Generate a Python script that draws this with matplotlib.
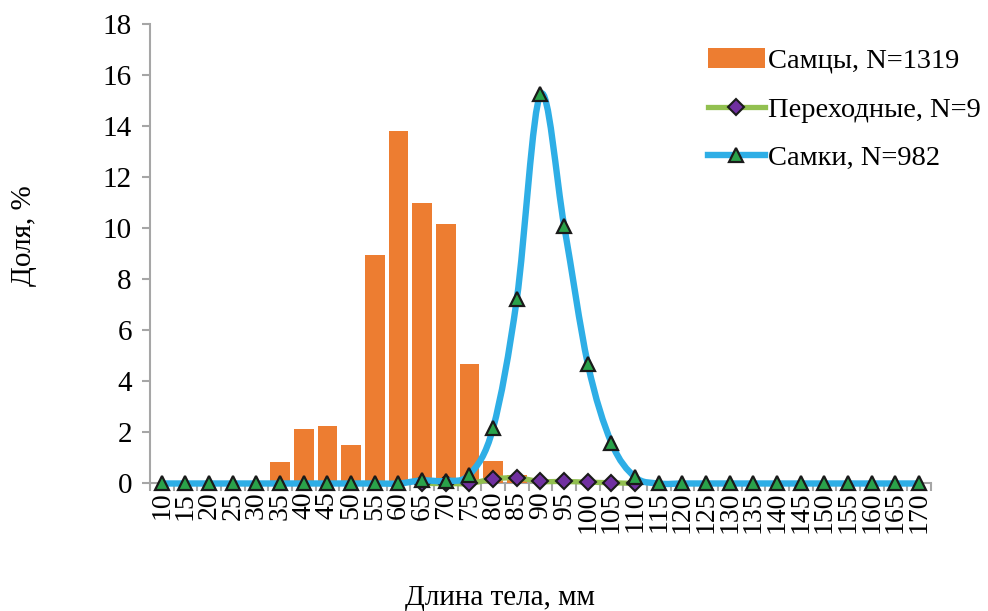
import matplotlib
matplotlib.use("Agg")
import matplotlib.pyplot as plt
import numpy as np
from matplotlib.path import Path
from matplotlib.patches import PathPatch
from matplotlib.lines import Line2D
from matplotlib.patches import Patch

plt.rcParams["font.family"] = ["Liberation Serif", "DejaVu Serif"]

lengths = [10, 15, 20, 25, 30, 35, 40, 45, 50, 55, 60, 65, 70, 75, 80, 85, 90,
           95, 100, 105, 110, 115, 120, 125, 130, 135, 140, 145, 150, 155, 160, 165, 170]

males = [0, 0, 0, 0, 0, 0.85, 2.15, 2.25, 1.5, 8.95, 13.83, 10.98, 10.17, 4.68, 0.9, 0.33, 0,
         0, 0, 0, 0, 0, 0, 0, 0, 0, 0, 0, 0, 0, 0, 0, 0]

# transitional: only 65..110
trans_lengths = [65, 70, 75, 80, 85, 90, 95, 100, 105, 110]
trans = [0.0, 0.0, 0.0, 0.18, 0.22, 0.08, 0.08, 0.05, 0.03, 0.0]

females = [0, 0, 0, 0, 0, 0, 0, 0, 0, 0, 0, 0.12, 0.1, 0.35, 2.18, 7.23, 15.25,
           10.1, 4.69, 1.59, 0.25, 0, 0, 0, 0, 0, 0, 0, 0, 0, 0, 0, 0]

labels = ["Самцы, N=1319", "Переходные, N=9", "Самки, N=982"]

c_bar = "#ED7D31"
c_green = "#92C050"
c_blue = "#2EAEE6"
c_diamond = "#7030A0"
c_tri = "#2AA24A"
c_axis = "#A6A6A6"


def smooth_path(xs, ys):
    # Excel-like smoothed line: cubic Bezier through the points
    pts = np.column_stack([xs, ys]).astype(float)
    n = len(pts)
    verts = [pts[0]]
    codes = [Path.MOVETO]
    for i in range(n - 1):
        p0 = pts[i - 1] if i > 0 else pts[i]
        p1 = pts[i]
        p2 = pts[i + 1]
        p3 = pts[i + 2] if i + 2 < n else pts[i + 1]
        c1 = p1 + (p2 - p0) / 6.0
        c2 = p2 - (p3 - p1) / 6.0
        verts += [c1, c2, p2]
        codes += [Path.CURVE4] * 3
    return Path(verts, codes)


fig = plt.figure(figsize=(9.88, 6.11), dpi=100)
ax = fig.add_axes([0.1518, 0.2087, 0.7905, 0.7515])

x = np.arange(len(lengths))
ax.bar(x, males, width=0.82, color=c_bar, zorder=2)

tx = np.array([lengths.index(v) for v in trans_lengths])
ax.add_patch(PathPatch(smooth_path(tx, trans), fill=False, edgecolor=c_green,
                       lw=3.8, zorder=3, capstyle="round", clip_on=False))
ax.plot(tx, trans, linestyle="none", marker="D", ms=8, mfc=c_diamond,
        mec="#1a1a1a", mew=1.5, zorder=4, clip_on=False)

ax.add_patch(PathPatch(smooth_path(x, females), fill=False, edgecolor=c_blue,
                       lw=4.6, zorder=5, capstyle="round", clip_on=False))
ax.plot(x, females, linestyle="none", marker="^", ms=10.5, mfc=c_tri,
        mec="#1a1a1a", mew=1.6, zorder=6, clip_on=False)

ax.set_xlim(-0.5, len(lengths) - 0.5)
ax.set_ylim(0, 18)
ax.set_yticks(np.arange(0, 19, 2))
ax.set_xticks(np.arange(-0.5, len(lengths), 1.0))
ax.set_xticklabels([])
ax.set_xticks(x, minor=True)
ax.set_xticklabels([str(v) for v in lengths], minor=True, rotation=90)

for s in ["top", "right"]:
    ax.spines[s].set_visible(False)
for s in ["left", "bottom"]:
    ax.spines[s].set_color(c_axis)
    ax.spines[s].set_linewidth(1.5)
    ax.spines[s].set_zorder(1)

ax.tick_params(axis="y", direction="out", length=6, width=1.5, color=c_axis,
               labelsize=21, pad=7)
ax.tick_params(axis="x", which="major", direction="out", length=6, width=1.5,
               color=c_axis)
ax.tick_params(axis="x", which="minor", length=0, labelsize=20, pad=6)

fig.text(0.024, 0.615, "Доля, %", fontsize=21, rotation=90, ha="center", va="center")
fig.text(0.506, 0.021, "Длина тела, мм", fontsize=21, ha="center", va="center")

handles = [
    Patch(facecolor=c_bar, edgecolor="none"),
    Line2D([], [], color=c_green, lw=3.8, marker="D", ms=8, mfc=c_diamond,
           mec="#1a1a1a", mew=1.5),
    Line2D([], [], color=c_blue, lw=4.6, marker="^", ms=10.5, mfc=c_tri,
           mec="#1a1a1a", mew=1.6),
]
fig.legend(handles, labels, loc="upper left", bbox_to_anchor=(0.705, 0.94),
           frameon=False, fontsize=20.5, handlelength=2.0, handletextpad=0.12,
           labelspacing=0.8, borderaxespad=0)

fig.savefig("out.png", dpi=100)
